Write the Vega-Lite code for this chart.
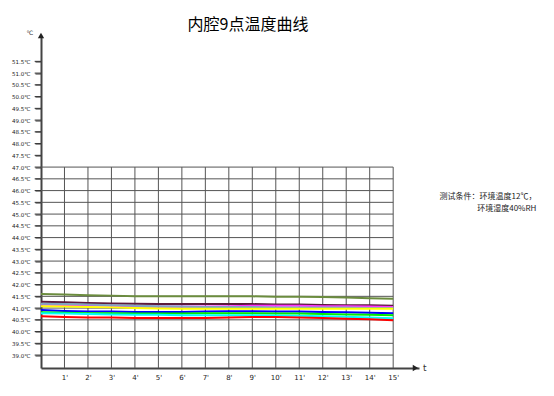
{
  "$schema": "https://vega.github.io/schema/vega-lite/v6.json",
  "autosize": "none",
  "width": 378,
  "height": 332.5,
  "padding": {"left": 41, "top": 35.5, "right": 135, "bottom": 28},
  "background": "white",
  "title": {"text": "内腔9点温度曲线", "font": "Noto Sans CJK SC", "fontSize": 16, "fontWeight": "normal", "color": "#000", "anchor": "middle", "dx": 18, "offset": -3},
  "config": {
    "view": {"stroke": null},
    "axisY": {"labelOverlap": false, "labelBound": false, "grid": false, "ticks": true, "tickSize": 6, "tickWidth": 1, "tickColor": "#333", "tickOpacity": 1, "domainColor": "#444", "domainWidth": 2, "labelFontSize": 5.5, "labelColor": "#222", "labelPadding": 5, "labelFont": "DejaVu Sans", "title": null},
    "axisX": {"labelOverlap": false, "labelBound": false, "grid": false, "ticks": false, "domainColor": "#444", "domainWidth": 2, "labelFontSize": 7, "labelColor": "#222", "labelPadding": 5, "labelFont": "DejaVu Sans", "title": null}
  },
  "datasets": {
    "one": [{}],
    "hgrid": [{"v": 39}, {"v": 39.5}, {"v": 40}, {"v": 40.5}, {"v": 41}, {"v": 41.5}, {"v": 42}, {"v": 42.5}, {"v": 43}, {"v": 43.5}, {"v": 44}, {"v": 44.5}, {"v": 45}, {"v": 45.5}, {"v": 46}, {"v": 46.5}, {"v": 47}],
    "ticks": [{"v": 39}, {"v": 39.5}, {"v": 40}, {"v": 40.5}, {"v": 41}, {"v": 41.5}, {"v": 42}, {"v": 42.5}, {"v": 43}, {"v": 43.5}, {"v": 44}, {"v": 44.5}, {"v": 45}, {"v": 45.5}, {"v": 46}, {"v": 46.5}, {"v": 47}, {"v": 47.5}, {"v": 48}, {"v": 48.5}, {"v": 49}, {"v": 49.5}, {"v": 50}, {"v": 50.5}, {"v": 51}, {"v": 51.5}],
    "vgrid": [{"t": 1}, {"t": 2}, {"t": 3}, {"t": 4}, {"t": 5}, {"t": 6}, {"t": 7}, {"t": 8}, {"t": 9}, {"t": 10}, {"t": 11}, {"t": 12}, {"t": 13}, {"t": 14}, {"t": 15}],
    "temps": [
      {"s": "A", "t": 0, "v": 41.60}, {"s": "A", "t": 1, "v": 41.58}, {"s": "A", "t": 2, "v": 41.55}, {"s": "A", "t": 3, "v": 41.53}, {"s": "A", "t": 4, "v": 41.50}, {"s": "A", "t": 5, "v": 41.50}, {"s": "A", "t": 6, "v": 41.50}, {"s": "A", "t": 7, "v": 41.50}, {"s": "A", "t": 8, "v": 41.50}, {"s": "A", "t": 9, "v": 41.50}, {"s": "A", "t": 10, "v": 41.48}, {"s": "A", "t": 11, "v": 41.48}, {"s": "A", "t": 12, "v": 41.47}, {"s": "A", "t": 13, "v": 41.45}, {"s": "A", "t": 14, "v": 41.42}, {"s": "A", "t": 15, "v": 41.40},
      {"s": "B", "t": 0, "v": 41.27}, {"s": "B", "t": 1, "v": 41.25}, {"s": "B", "t": 2, "v": 41.22}, {"s": "B", "t": 3, "v": 41.20}, {"s": "B", "t": 4, "v": 41.18}, {"s": "B", "t": 5, "v": 41.17}, {"s": "B", "t": 6, "v": 41.17}, {"s": "B", "t": 7, "v": 41.17}, {"s": "B", "t": 8, "v": 41.17}, {"s": "B", "t": 9, "v": 41.17}, {"s": "B", "t": 10, "v": 41.15}, {"s": "B", "t": 11, "v": 41.15}, {"s": "B", "t": 12, "v": 41.13}, {"s": "B", "t": 13, "v": 41.12}, {"s": "B", "t": 14, "v": 41.12}, {"s": "B", "t": 15, "v": 41.10},
      {"s": "C", "t": 0, "v": 41.15}, {"s": "C", "t": 1, "v": 41.13}, {"s": "C", "t": 2, "v": 41.12}, {"s": "C", "t": 3, "v": 41.10}, {"s": "C", "t": 4, "v": 41.08}, {"s": "C", "t": 5, "v": 41.07}, {"s": "C", "t": 6, "v": 41.07}, {"s": "C", "t": 7, "v": 41.07}, {"s": "C", "t": 8, "v": 41.08}, {"s": "C", "t": 9, "v": 41.10}, {"s": "C", "t": 10, "v": 41.10}, {"s": "C", "t": 11, "v": 41.10}, {"s": "C", "t": 12, "v": 41.08}, {"s": "C", "t": 13, "v": 41.08}, {"s": "C", "t": 14, "v": 41.07}, {"s": "C", "t": 15, "v": 41.05},
      {"s": "D", "t": 0, "v": 41.18}, {"s": "D", "t": 1, "v": 41.17}, {"s": "D", "t": 2, "v": 41.15}, {"s": "D", "t": 3, "v": 41.12}, {"s": "D", "t": 4, "v": 41.10}, {"s": "D", "t": 5, "v": 41.08}, {"s": "D", "t": 6, "v": 41.07}, {"s": "D", "t": 7, "v": 41.05}, {"s": "D", "t": 8, "v": 41.05}, {"s": "D", "t": 9, "v": 41.05}, {"s": "D", "t": 10, "v": 41.03}, {"s": "D", "t": 11, "v": 41.03}, {"s": "D", "t": 12, "v": 41.02}, {"s": "D", "t": 13, "v": 41.02}, {"s": "D", "t": 14, "v": 41.00}, {"s": "D", "t": 15, "v": 41.00},
      {"s": "E", "t": 0, "v": 41.08}, {"s": "E", "t": 1, "v": 41.07}, {"s": "E", "t": 2, "v": 41.05}, {"s": "E", "t": 3, "v": 41.03}, {"s": "E", "t": 4, "v": 41.00}, {"s": "E", "t": 5, "v": 40.98}, {"s": "E", "t": 6, "v": 40.97}, {"s": "E", "t": 7, "v": 40.97}, {"s": "E", "t": 8, "v": 40.97}, {"s": "E", "t": 9, "v": 40.97}, {"s": "E", "t": 10, "v": 40.97}, {"s": "E", "t": 11, "v": 40.97}, {"s": "E", "t": 12, "v": 40.97}, {"s": "E", "t": 13, "v": 40.97}, {"s": "E", "t": 14, "v": 40.97}, {"s": "E", "t": 15, "v": 40.97},
      {"s": "F", "t": 0, "v": 40.92}, {"s": "F", "t": 1, "v": 40.88}, {"s": "F", "t": 2, "v": 40.85}, {"s": "F", "t": 3, "v": 40.85}, {"s": "F", "t": 4, "v": 40.83}, {"s": "F", "t": 5, "v": 40.83}, {"s": "F", "t": 6, "v": 40.83}, {"s": "F", "t": 7, "v": 40.85}, {"s": "F", "t": 8, "v": 40.87}, {"s": "F", "t": 9, "v": 40.87}, {"s": "F", "t": 10, "v": 40.85}, {"s": "F", "t": 11, "v": 40.85}, {"s": "F", "t": 12, "v": 40.83}, {"s": "F", "t": 13, "v": 40.82}, {"s": "F", "t": 14, "v": 40.80}, {"s": "F", "t": 15, "v": 40.78},
      {"s": "G", "t": 0, "v": 40.82}, {"s": "G", "t": 1, "v": 40.80}, {"s": "G", "t": 2, "v": 40.78}, {"s": "G", "t": 3, "v": 40.78}, {"s": "G", "t": 4, "v": 40.77}, {"s": "G", "t": 5, "v": 40.77}, {"s": "G", "t": 6, "v": 40.77}, {"s": "G", "t": 7, "v": 40.78}, {"s": "G", "t": 8, "v": 40.78}, {"s": "G", "t": 9, "v": 40.78}, {"s": "G", "t": 10, "v": 40.77}, {"s": "G", "t": 11, "v": 40.77}, {"s": "G", "t": 12, "v": 40.75}, {"s": "G", "t": 13, "v": 40.73}, {"s": "G", "t": 14, "v": 40.72}, {"s": "G", "t": 15, "v": 40.70},
      {"s": "H", "t": 0, "v": 40.78}, {"s": "H", "t": 1, "v": 40.77}, {"s": "H", "t": 2, "v": 40.75}, {"s": "H", "t": 3, "v": 40.73}, {"s": "H", "t": 4, "v": 40.72}, {"s": "H", "t": 5, "v": 40.72}, {"s": "H", "t": 6, "v": 40.70}, {"s": "H", "t": 7, "v": 40.70}, {"s": "H", "t": 8, "v": 40.70}, {"s": "H", "t": 9, "v": 40.70}, {"s": "H", "t": 10, "v": 40.68}, {"s": "H", "t": 11, "v": 40.67}, {"s": "H", "t": 12, "v": 40.65}, {"s": "H", "t": 13, "v": 40.63}, {"s": "H", "t": 14, "v": 40.60}, {"s": "H", "t": 15, "v": 40.57},
      {"s": "I", "t": 0, "v": 40.65}, {"s": "I", "t": 1, "v": 40.62}, {"s": "I", "t": 2, "v": 40.60}, {"s": "I", "t": 3, "v": 40.60}, {"s": "I", "t": 4, "v": 40.58}, {"s": "I", "t": 5, "v": 40.58}, {"s": "I", "t": 6, "v": 40.58}, {"s": "I", "t": 7, "v": 40.58}, {"s": "I", "t": 8, "v": 40.60}, {"s": "I", "t": 9, "v": 40.62}, {"s": "I", "t": 10, "v": 40.62}, {"s": "I", "t": 11, "v": 40.60}, {"s": "I", "t": 12, "v": 40.58}, {"s": "I", "t": 13, "v": 40.55}, {"s": "I", "t": 14, "v": 40.52}, {"s": "I", "t": 15, "v": 40.48}
    ]
  },
  "layer": [
    {
      "data": {"name": "hgrid"},
      "mark": {"type": "rule", "color": "#555", "strokeWidth": 1},
      "encoding": {
        "y": {"field": "v", "type": "quantitative", "scale": {"domain": [38.45, 52.6], "nice": false, "zero": false},
          "axis": {"values": [39,39.5,40,40.5,41,41.5,42,42.5,43,43.5,44,44.5,45,45.5,46,46.5,47,47.5,48,48.5,49,49.5,50,50.5,51,51.5], "tickCount": 100, "labelExpr": "format(datum.value, '.1f') + '℃'", "labelOverlap": false, "ticks": true, "tickSize": 6, "tickColor": "#333"}},
        "x": {"datum": 0, "type": "quantitative", "scale": {"domain": [0, 16.1], "nice": false, "zero": false},
          "axis": {"values": [1,2,3,4,5,6,7,8,9,10,11,12,13,14,15], "tickCount": 100, "labelExpr": "datum.value + \"'\"", "labelOverlap": false}},
        "x2": {"datum": 15}
      }
    },
    {
      "data": {"name": "ticks"},
      "mark": {"type": "rule", "color": "#333", "strokeWidth": 1, "clip": false},
      "encoding": {
        "y": {"field": "v", "type": "quantitative"},
        "x": {"datum": -0.27, "type": "quantitative"},
        "x2": {"datum": 0}
      }
    },
    {
      "data": {"name": "vgrid"},
      "mark": {"type": "rule", "color": "#555", "strokeWidth": 1},
      "encoding": {
        "x": {"field": "t", "type": "quantitative"},
        "y": {"datum": 38.45, "type": "quantitative"},
        "y2": {"datum": 47}
      }
    },
    {
      "data": {"name": "temps"},
      "mark": {"type": "line", "strokeWidth": 2, "interpolate": "linear"},
      "encoding": {
        "x": {"field": "t", "type": "quantitative"},
        "y": {"field": "v", "type": "quantitative"},
        "color": {"field": "s", "type": "nominal", "legend": null,
          "scale": {"domain": ["A","B","C","D","E","F","G","H","I"], "range": ["#6b8c3e", "#5b1a3b", "#ff33ff", "#7fa6c0", "#ffff00", "#0000ff", "#00ee00", "#00ffff", "#ff0000"]}},
        "order": {"field": "t", "type": "quantitative"}
      }
    },
    {
      "data": {"name": "one"},
      "mark": {"type": "point", "shape": "triangle-up", "filled": true, "color": "#222", "size": 40, "opacity": 1},
      "encoding": {"x": {"datum": 0, "type": "quantitative"}, "y": {"datum": 52.6, "type": "quantitative"}}
    },
    {
      "data": {"name": "one"},
      "mark": {"type": "point", "shape": "triangle-right", "filled": true, "color": "#222", "size": 40, "opacity": 1},
      "encoding": {"x": {"datum": 15.95, "type": "quantitative"}, "y": {"datum": 38.45, "type": "quantitative"}}
    },
    {
      "data": {"name": "one"},
      "mark": {"type": "text", "text": "℃", "font": "DejaVu Sans", "fontSize": 6, "color": "#333", "align": "center", "baseline": "middle"},
      "encoding": {"x": {"datum": -0.47, "type": "quantitative"}, "y": {"datum": 52.7, "type": "quantitative"}}
    },
    {
      "data": {"name": "one"},
      "mark": {"type": "text", "text": "t", "font": "DejaVu Sans", "fontSize": 9, "color": "#333", "align": "center", "baseline": "middle"},
      "encoding": {"x": {"datum": 16.35, "type": "quantitative"}, "y": {"datum": 38.45, "type": "quantitative"}}
    },
    {
      "data": {"name": "one"},
      "mark": {"type": "text", "text": "测试条件：环境温度12℃，", "font": "Noto Sans CJK SC", "fontSize": 8, "color": "#222", "align": "right", "baseline": "middle"},
      "encoding": {"x": {"datum": 21.1, "type": "quantitative"}, "y": {"datum": 45.73, "type": "quantitative"}}
    },
    {
      "data": {"name": "one"},
      "mark": {"type": "text", "text": "环境湿度40%RH", "font": "Noto Sans CJK SC", "fontSize": 8, "color": "#222", "align": "right", "baseline": "middle"},
      "encoding": {"x": {"datum": 21.1, "type": "quantitative"}, "y": {"datum": 45.2, "type": "quantitative"}}
    }
  ]
}
